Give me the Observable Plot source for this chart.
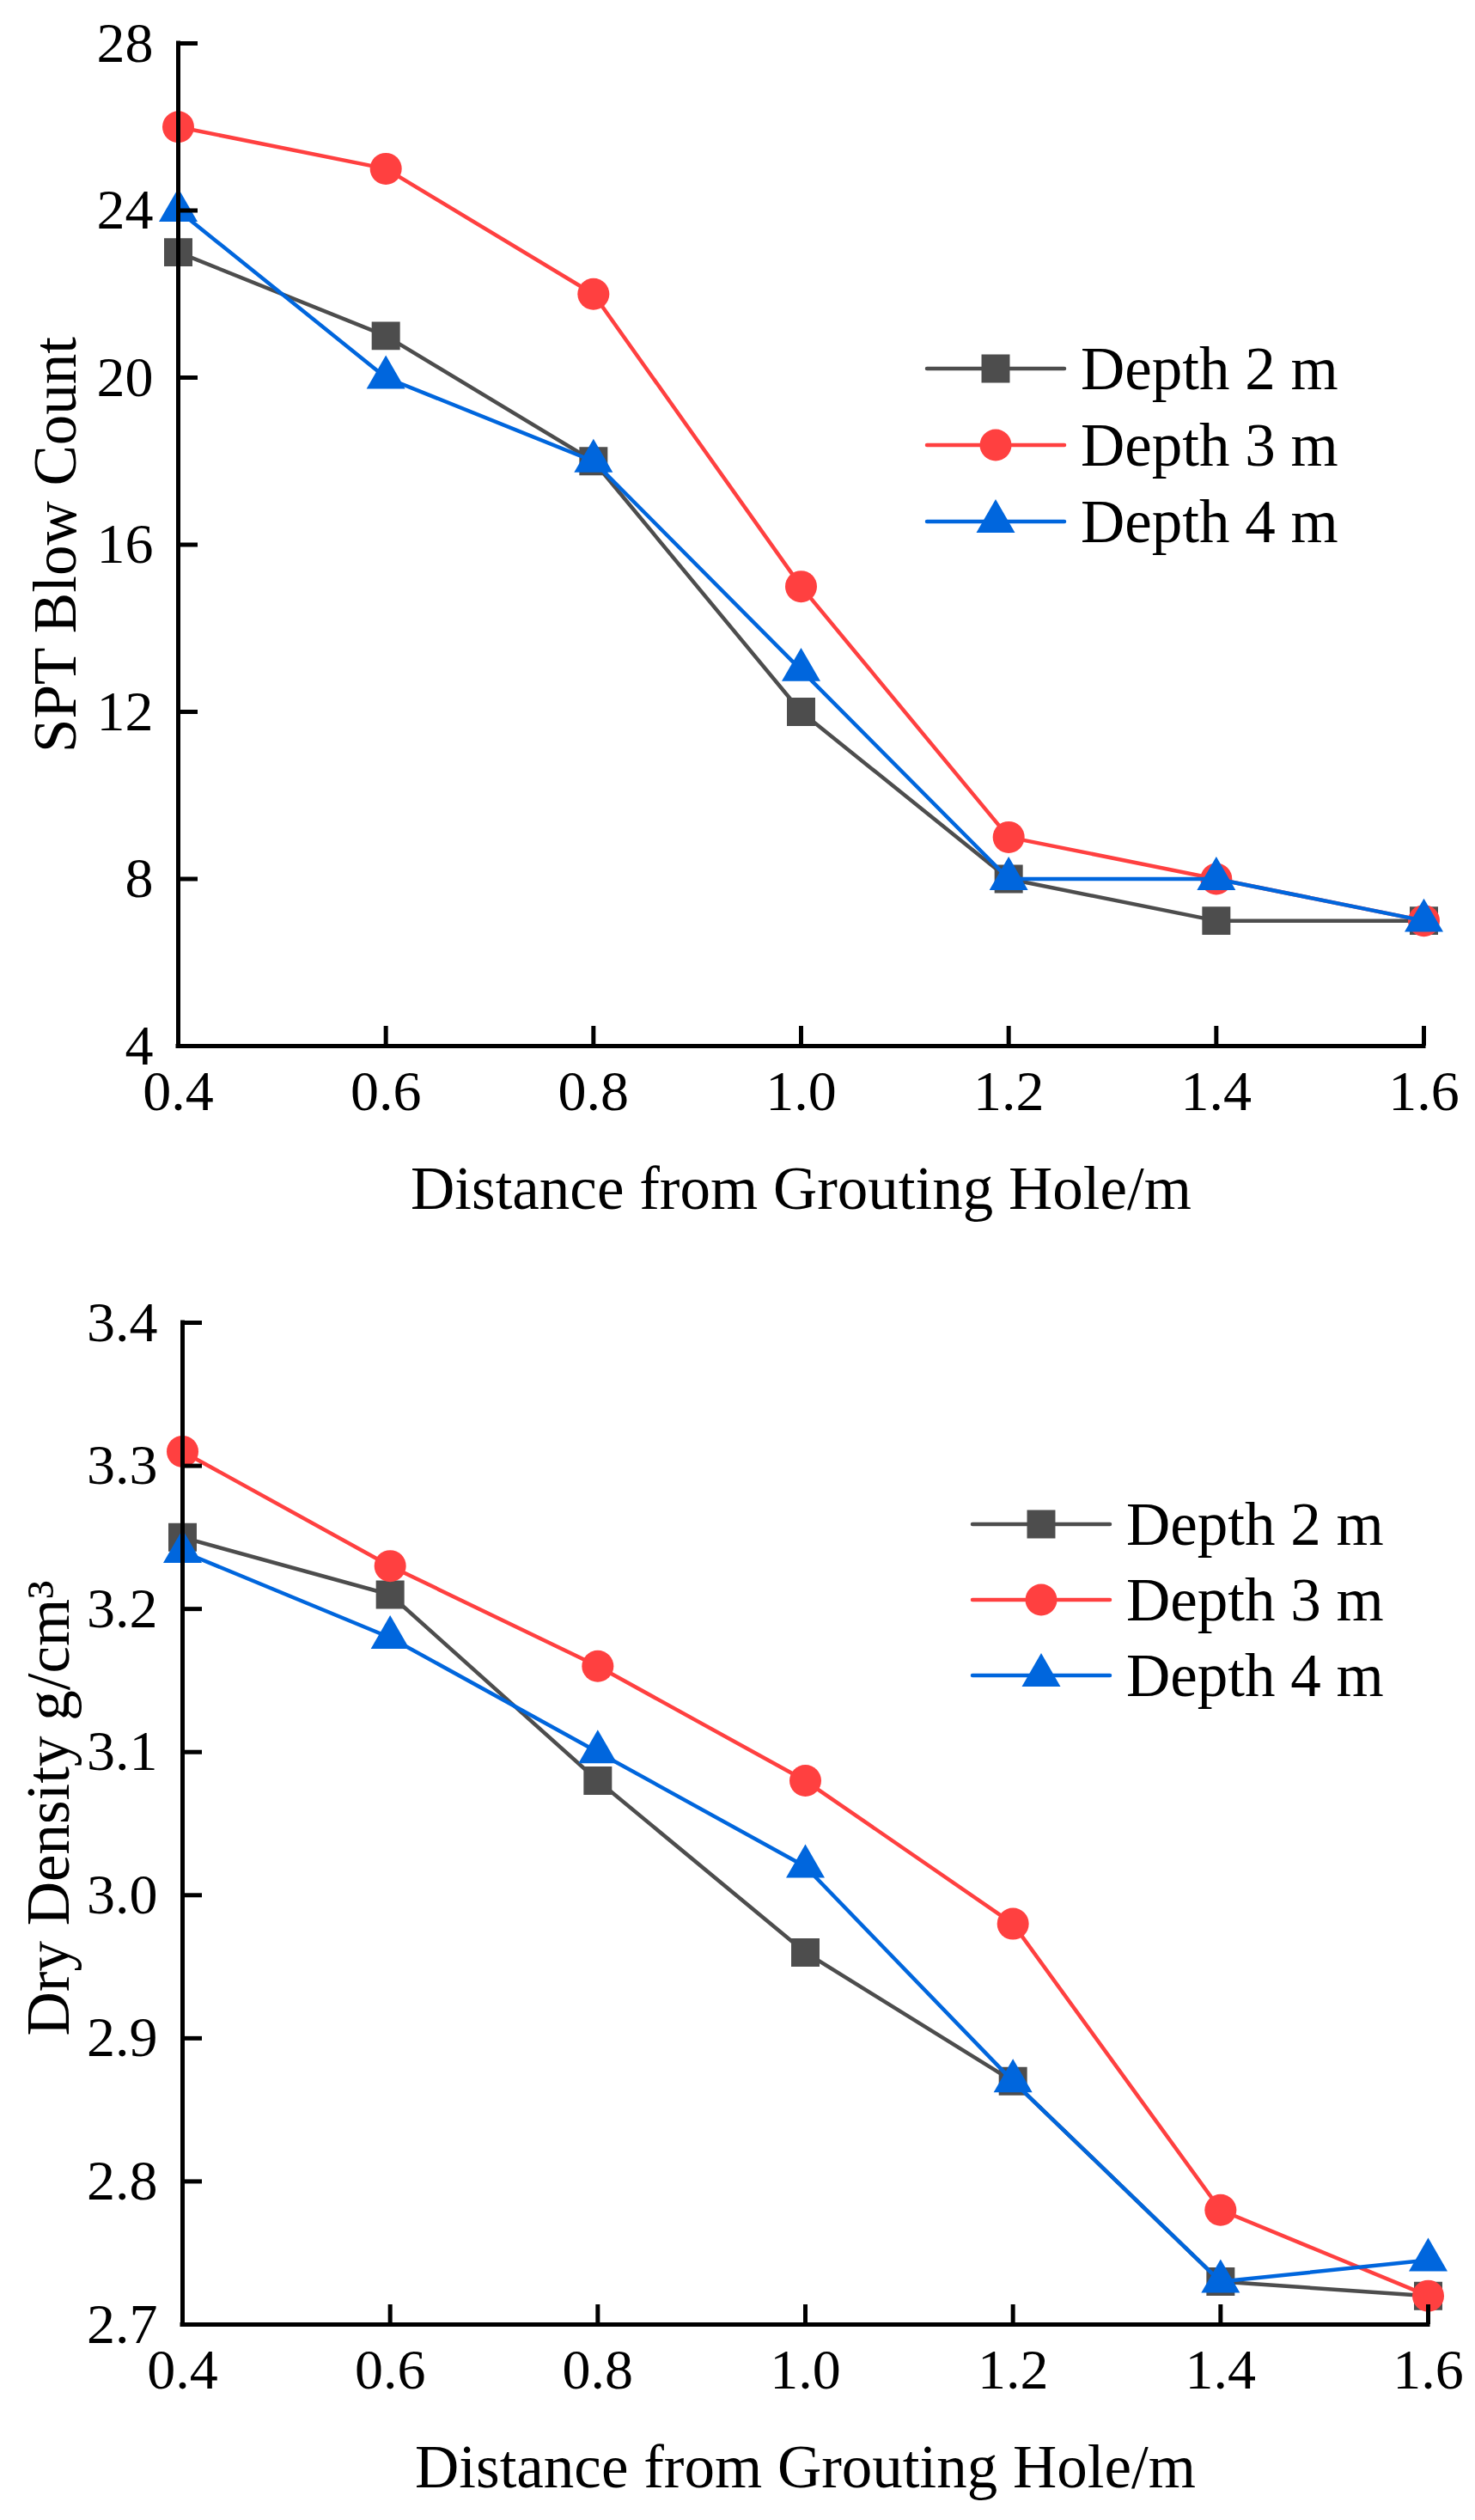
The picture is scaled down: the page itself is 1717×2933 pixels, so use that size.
<!DOCTYPE html>
<html>
<head>
<meta charset="utf-8">
<script src="https://cdn.jsdelivr.net/npm/d3@7"></script>
<script src="https://cdn.jsdelivr.net/npm/@observablehq/plot@0.6"></script>
<style>
  body { margin: 0; background: #fff; }
  .panel { position: relative; width: 1717px; }
  .panel svg { display: block; }
  .legend { position: absolute; left: 0; top: 0; pointer-events: none; }
</style>
</head>
<body>
<div id="spt" class="panel"></div>
<div id="density" class="panel"></div>
<script>
// values
const distance = [0.4, 0.6, 0.8, 1.0, 1.2, 1.4, 1.6];
const seriesNames = ["Depth 2 m", "Depth 3 m", "Depth 4 m"];

const sptDepth2 = [23, 21, 18, 12, 8, 7, 7];
const sptDepth3 = [26, 25, 22, 15, 9, 8, 7];
const sptDepth4 = [24, 20, 18, 13, 8, 8, 7];

const densDepth2 = [3.25, 3.21, 3.08, 2.96, 2.87, 2.73, 2.72];
const densDepth3 = [3.31, 3.23, 3.16, 3.08, 2.98, 2.78, 2.72];
const densDepth4 = [3.24, 3.18, 3.10, 3.02, 2.87, 2.73, 2.745];

const xTicks = [0.4, 0.6, 0.8, 1.0, 1.2, 1.4, 1.6];
const sptTicks = [4, 8, 12, 16, 20, 24, 28];
const densTicks = [2.7, 2.8, 2.9, 3.0, 3.1, 3.2, 3.3, 3.4];

// styling
const colors = ["#4d4d4d", "#ff4040", "#0066dd"];
const symbols = ["square", "circle", "triangle"];
const d3symbols = [d3.symbolSquare, d3.symbolCircle, d3.symbolTriangle];
const symbolR = [18.6, 18.5, 16.7];
const font = "Liberation Serif, Times New Roman, serif";

function drawPanel(el, opts) {
  const marks = [];
  opts.series.forEach((vals, s) => {
    const data = distance.map((d, i) => ({x: d, y: vals[i]}));
    marks.push(Plot.line(data, {x: "x", y: "y", stroke: colors[s], strokeWidth: 4.5}));
    marks.push(Plot.dot(data, {x: "x", y: "y", symbol: symbols[s], fill: colors[s], r: symbolR[s]}));
  });

  // axes: lines, inward ticks, labels
  marks.push(
    Plot.ruleX([xTicks[0]], {stroke: "black", strokeWidth: 5, strokeLinecap: "square"}),
    Plot.ruleY([opts.yTicks[0]], {stroke: "black", strokeWidth: 5, strokeLinecap: "square"}),
    Plot.axisX({ticks: xTicks, tickSize: -23, fill: "none", stroke: "black", strokeWidth: 5}),
    Plot.axisY({ticks: opts.yTicks, tickSize: -23, fill: "none", stroke: "black", strokeWidth: 5}),
    Plot.axisX({ticks: xTicks, tickSize: 0, tickPadding: 28, tickFormat: d3.format(".1f"),
      label: null, fontSize: 66, fontFamily: font, fontVariant: "normal", fill: "black"}),
    Plot.axisY({ticks: opts.yTicks, tickSize: 0, tickPadding: 29, tickFormat: opts.yFormat,
      label: null, fontSize: 66, fontFamily: font, fontVariant: "normal", fill: "black"}),
    Plot.text([opts.xLabel], {frameAnchor: "bottom", dy: 167, fontSize: 71, fontFamily: font,
      textAnchor: "middle", lineAnchor: "middle", fill: "black"}),
    Plot.text([opts.yLabel], {frameAnchor: "left", dx: opts.yLabelDx, dy: opts.yLabelDy, rotate: -90,
      fontSize: 71, fontFamily: font, textAnchor: "middle", lineAnchor: "middle", fill: "black"})
  );

  const chart = Plot.plot({
    width: 1717,
    height: opts.height,
    marginTop: opts.margin[0],
    marginRight: opts.margin[1],
    marginBottom: opts.margin[2],
    marginLeft: opts.margin[3],
    style: {fontFamily: font, fontSize: "66px", background: "white", color: "black"},
    x: {domain: [xTicks[0], xTicks[xTicks.length - 1]]},
    y: {domain: [opts.yTicks[0], opts.yTicks[opts.yTicks.length - 1]]},
    marks
  });
  d3.select(el).append(() => chart);

  // legend drawn on top of the plot area
  const lg = d3.select(el).append("svg")
    .attr("class", "legend")
    .attr("width", 1717)
    .attr("height", opts.height);
  seriesNames.forEach((name, s) => {
    const g = lg.append("g")
      .attr("transform", `translate(${opts.legend.left},${opts.legend.rows[s]})`);
    g.append("line")
      .attr("x1", 2).attr("x2", 162)
      .attr("stroke", colors[s]).attr("stroke-width", 4.5).attr("stroke-linecap", "round");
    g.append("path")
      .attr("transform", "translate(82,0)")
      .attr("d", d3.symbol(d3symbols[s], Math.PI * symbolR[s] * symbolR[s])())
      .attr("fill", colors[s]);
    g.append("text")
      .attr("x", 181).attr("y", 24)
      .attr("font-family", font).attr("font-size", 71)
      .text(name);
  });
}

drawPanel("#spt", {
  series: [sptDepth2, sptDepth3, sptDepth4],
  yTicks: sptTicks,
  yFormat: d3.format("d"),
  yLabel: "SPT Blow Count",
  xLabel: "Distance from Grouting Hole/m",
  height: 1450,
  margin: [50, 60, 233, 207],
  yLabelDx: -142,
  yLabelDy: 0,
  legend: {left: 1077, rows: [429, 518, 607]}
});

drawPanel("#density", {
  series: [densDepth2, densDepth3, densDepth4],
  yTicks: densTicks,
  yFormat: d3.format(".1f"),
  yLabel: "Dry Density g/cm³",
  xLabel: "Distance from Grouting Hole/m",
  height: 1483,
  margin: [89, 55, 228, 212],
  yLabelDx: -155,
  yLabelDy: -18,
  legend: {left: 1130, rows: [324, 412, 500]}
});
</script>
</body>
</html>
